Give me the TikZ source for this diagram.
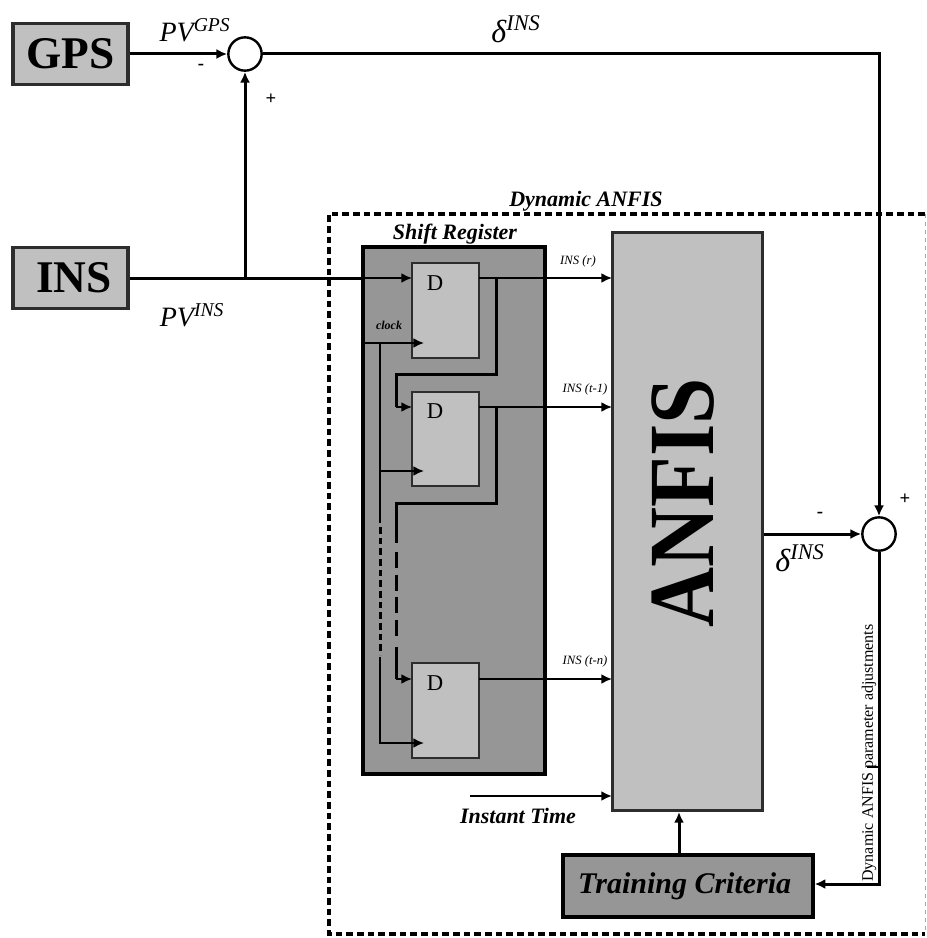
\documentclass[tikz,border=0pt]{standalone}
\usepackage{fontspec}
\setmainfont{Liberation Serif}
\usepackage{graphicx}
\definecolor{blockgray}{RGB}{192,192,192}
\definecolor{darkgray}{RGB}{150,150,150}
\definecolor{edgegray}{RGB}{45,45,45}
\usetikzlibrary{arrows.meta,positioning,calc}
\tikzset{
  source/.style={rectangle,draw=edgegray,line width=2.6pt,fill=blockgray,
                 minimum width=86pt,minimum height=46pt,inner sep=0pt,
                 font=\fontsize{34}{34}\selectfont\bfseries},
  sumnode/.style={circle,draw=black,line width=1.8pt,fill=white,
                  minimum size=25pt,inner sep=0pt},
  dbox/.style={rectangle,draw=edgegray,line width=1.5pt,fill=blockgray,
               minimum width=50pt,minimum height=71pt,inner sep=0pt},
  wire/.style={-{Latex[length=8pt,width=7.5pt]},line width=2.25pt},
  plainwire/.style={line width=2.25pt},
  thinwire/.style={-{Latex[length=8pt,width=7.5pt]},line width=1.5pt},
  feedwire/.style={line width=2.25pt},
  sign/.style={font=\fontsize{14}{14}\selectfont\bfseries,inner sep=0pt},
  head/.style={font=\fontsize{16.5}{17}\selectfont\bfseries\itshape,inner sep=0pt},
  tag/.style={font=\fontsize{9.5}{10}\selectfont\itshape,inner sep=0pt},
  symb/.style={font=\fontsize{21}{21}\selectfont\itshape,inner sep=0pt},
  dynline/.style={line width=3.6pt,dash pattern=on 5pt off 3pt},
}
\begin{document}
\begin{tikzpicture}[x=0.75pt,y=-0.75pt]
  \useasboundingbox (0,0) rectangle (926,938);
  % frame of the dynamic block
  \coordinate (dynNW) at (329,214);
  \coordinate (dynNE) at (925,214);
  \coordinate (dynSW) at (329,934);
  \coordinate (dynSE) at (925,934);
  \draw[dynline] (dynNE) -- (dynNW) -- (dynSW) -- (dynSE);
  \draw[gray!70,line width=0.6pt,dashed] (dynNE) -- (dynSE);
  \node[head] (dyntitle) at (586,201) {Dynamic ANFIS};

  \node[source] (gps) at (70.5,54) {GPS};
  \node[source] (ins) at (70.5,278) {\hspace{5pt}INS};
  \node[sumnode] (sumtop) at (245,54) {};
  \node[sumnode] (sumright) at (879,534) {};

  % shift register
  \node[rectangle,draw=black,line width=3.2pt,fill=darkgray,minimum width=136pt,
        minimum height=395pt,inner sep=0pt] (shift) at (454,510.5) {};
  \node[head] (shifttitle) at (455,234) {Shift Register};
  \node[dbox] (dOne) at (445.5,310.5) {};
  \node[dbox] (dTwo) at (445.5,439) {};
  \node[dbox] (dThree) at (445.5,710.5) {};
  \foreach \dname/\ypos in {dOne/283,dTwo/411,dThree/683}
    \node[font=\fontsize{17}{17}\selectfont,inner sep=0pt] (\dname label) at (435,\ypos) {D};
  \node[font=\fontsize{9}{9}\selectfont\bfseries\itshape,inner sep=0pt] (clocklabel) at (389,325) {clock};

  \node[rectangle,draw=edgegray,line width=2.4pt,fill=blockgray,minimum width=112pt,
        minimum height=434pt,inner sep=0pt] (anfis) at (687.5,521.5)
        {};
  \node[rotate=90,inner sep=0pt,font=\fontsize{70}{70}\selectfont\bfseries] (anfistext) at (683,502.5)
        {\scalebox{0.89}[1]{ANFIS}};
  \node[rectangle,draw=black,line width=3pt,fill=darkgray,minimum width=187pt,
        minimum height=46pt,inner sep=0pt,font=\fontsize{22.5}{23}\selectfont\bfseries\itshape]
        (training) at (688,886) {\hspace{-5pt}Training Criteria};

  % junctions
  \coordinate (insjoin) at (245,278);
  \coordinate (corner) at (879,54);
  \coordinate (regin) at (362,278);
  \coordinate (inOne) at (412,278);
  \coordinate (inTwo) at (412,407);
  \coordinate (inThree) at (412,679);
  \coordinate (outOne) at (479,278);
  \coordinate (outTwo) at (479,407);
  \coordinate (outThree) at (479,679);
  \coordinate (anfisOne) at (612,278);
  \coordinate (anfisTwo) at (612,407);
  \coordinate (anfisThree) at (612,679);
  \coordinate (tapOne) at (496,278);
  \coordinate (tapTwo) at (496,407);
  \coordinate (clkstart) at (365,343);
  \coordinate (clkOne) at (424,343);
  \coordinate (clkjoin) at (380,343);
  \coordinate (clkbranch) at (380,471);
  \coordinate (clkTwo) at (424,471);
  \coordinate (clkThree) at (424,743);
  \coordinate (instant) at (470,796);
  \coordinate (anfisTime) at (612,796);
  \coordinate (turn) at (879,884);
  \coordinate (tickstart) at (867,767);
  \coordinate (tickend) at (879,767);

  \draw[wire] (gps) -- (sumtop);
  \draw[plainwire] (ins) -- (regin);
  \draw[wire] (insjoin) -- (sumtop);
  \draw[wire] (sumtop) -- (corner) -- (sumright);
  \draw[thinwire] (regin) -- (inOne);

  \draw[thinwire] (outOne) -- (anfisOne);
  \draw[thinwire] (outTwo) -- (anfisTwo);
  \draw[thinwire] (outThree) -- (anfisThree);

  % feedback between the registers
  \draw[feedwire] (tapOne) -- ++(0,96) -| (396,407);
  \draw[thinwire] (396,407) -- (inTwo);
  \draw[feedwire] (tapTwo) -- ++(0,96) -| (396,543);
  \draw[feedwire,dash pattern=on 12pt off 5pt] (396,552) -- (396,640);
  \draw[feedwire] (396,647) -- (396,679);
  \draw[thinwire] (396,679) -- (inThree);

  % clock lines
  \draw[thinwire] (clkstart) -- (clkOne);
  \draw[line width=1.5pt] (clkjoin) -- (380,523);
  \draw[line width=2.25pt,dash pattern=on 5pt off 3pt] (380,527) -- (380,655);
  \draw[thinwire] (380,657) |- (clkThree);
  \draw[thinwire] (clkbranch) -- (clkTwo);

  \draw[wire] (anfis.east |- sumright) -- (sumright);
  \draw[wire] (sumright) -- (turn) -- (training.east |- turn);
  \draw[wire] (training.north -| 679,854) -- (679,812);
  \draw[wire,line width=1.7pt] (instant) -- (anfisTime);
  \draw[line width=0.8pt] (tickstart) -- (tickend);

  % labels
  \node[symb] (pvgps) at (195,30) {PV$^{\mathit{GPS}}$};
  \node[symb] (pvins) at (192,315) {PV$^{\mathit{INS}}$};
  \node[symb,font=\fontsize{24}{24}\selectfont\itshape] (deltatop) at (516,29) {δ$^{\mathit{INS}}$};
  \node[symb,font=\fontsize{24}{24}\selectfont\itshape] (deltaright) at (800,558) {δ$^{\mathit{INS}}$};
  \node[sign] (minustop) at (201,67) {-};
  \node[sign] (plustop) at (271,99) {+};
  \node[sign] (minusright) at (820,515) {-};
  \node[sign] (plusright) at (905,499) {+};
  \node[tag] (tagOne) at (578,261) {INS (r)};
  \node[tag] (tagTwo) at (585,389) {INS (t-1)};
  \node[tag] (tagThree) at (585,661) {INS (t-n)};
  \node[head] (timelabel) at (518,816) {Instant Time};
  \node[rotate=90,inner sep=0pt,font=\fontsize{12}{12}\selectfont] (adjustlabel) at (869,753)
        {Dynamic ANFIS parameter adjustments};
\end{tikzpicture}
\end{document}
